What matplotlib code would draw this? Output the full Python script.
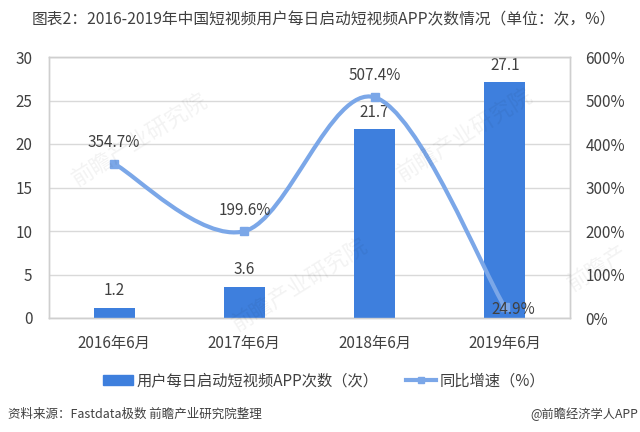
import matplotlib
matplotlib.use('Agg')
import matplotlib.pyplot as plt
from matplotlib.path import Path
from matplotlib.patches import PathPatch
from matplotlib.lines import Line2D
from matplotlib.patches import Patch

plt.rcParams['font.family'] = ['Noto Sans CJK SC', 'DejaVu Sans']

categories = ['2016年6月', '2017年6月', '2018年6月', '2019年6月']
counts = [1.2, 3.6, 21.7, 27.1]
growth = [354.7, 199.6, 507.4, 24.9]
left_ticks = [0, 5, 10, 15, 20, 25, 30]
right_ticks = [0, 100, 200, 300, 400, 500, 600]

W, H = 640, 432
fig = plt.figure(figsize=(W / 100, H / 100), dpi=100, facecolor='white')
ax = fig.add_axes([49 / W, 1 - 318 / H, (570 - 49) / W, (318 - 57) / H])
ax2 = ax.twinx()
ax.set_zorder(1)
ax2.set_zorder(2)
ax2.patch.set_visible(False)

TXT = '#404040'
BAR = '#3E7FDD'
LINE = '#7BA7E8'
GRID = '#D9D9D9'
xs = list(range(len(categories)))

ax.bar(xs, counts, width=0.315, color=BAR, zorder=3)
ax.set_xlim(-0.5, 3.5)
ax.set_ylim(0, 30)
ax.set_yticks(left_ticks)
ax.set_xticks(xs)
ax.set_xticklabels(categories)
ax.grid(axis='y', color=GRID, lw=1)
ax.set_axisbelow(True)
ax.tick_params(axis='both', length=0, labelsize=11, labelcolor=TXT)
ax.tick_params(axis='x', pad=12)
ax.tick_params(axis='y', pad=12)

ax2.set_ylim(0, 600)
ax2.set_yticks(right_ticks)
ax2.set_yticklabels([f'{v}%' for v in right_ticks])
ax2.tick_params(axis='y', length=0, labelsize=11, labelcolor=TXT, pad=11)

for a in (ax, ax2):
    for s in ('top', 'left', 'right', 'bottom'):
        a.spines[s].set_color('#CFCFCF')
        a.spines[s].set_linewidth(1)

# smoothed line through the data points (Catmull-Rom style, as spreadsheet charts draw it)
n = len(xs)
verts = [(xs[0], growth[0])]
codes = [Path.MOVETO]
for i in range(n - 1):
    p0 = (xs[max(i - 1, 0)], growth[max(i - 1, 0)])
    p1 = (xs[i], growth[i])
    p2 = (xs[i + 1], growth[i + 1])
    p3 = (xs[min(i + 2, n - 1)], growth[min(i + 2, n - 1)])
    c1 = (p1[0] + (p2[0] - p0[0]) / 6, p1[1] + (p2[1] - p0[1]) / 6)
    c2 = (p2[0] - (p3[0] - p1[0]) / 6, p2[1] - (p3[1] - p1[1]) / 6)
    verts += [c1, c2, p2]
    codes += [Path.CURVE4] * 3
ax2.add_patch(PathPatch(Path(verts, codes), fc='none', ec=LINE, lw=3, capstyle='round', zorder=4))
ax2.plot(xs, growth, ls='none', marker='s', ms=5.2, color=LINE, zorder=5)

for x, v in zip(xs, counts):
    ax.annotate(f'{v}', (x, v), xytext=(0, 6), textcoords='offset points', ha='center',
                va='bottom', fontsize=11, color=TXT, zorder=6)
label_offsets = [(0, 9), (0, 9), (0, 9.5), (6, -1.5)]
for x, v, off in zip(xs, growth, label_offsets):
    ax2.annotate(f'{v}%', (x, v), xytext=off, textcoords='offset points', ha='center',
                 va='bottom' if off[1] > 0 else 'center', fontsize=11, color=TXT, zorder=6)

fig.text(32 / W, 1 - 20 / H, '图表2：2016-2019年中国短视频用户每日启动短视频APP次数情况（单位：次，%）',
         fontsize=11.3, color=TXT, va='center', ha='left')

handles = [Patch(color=BAR), Line2D([0], [0], color=LINE, lw=3, marker='s', ms=5)]
labels = ['用户每日启动短视频APP次数（次）', '同比增速（%）']
fig.legend(handles, labels, loc='center', bbox_to_anchor=(324 / W, 1 - 381 / H), ncol=2, frameon=False,
           fontsize=11, labelcolor=TXT, handlelength=1.95, handletextpad=0.2, columnspacing=1.85,
           handleheight=0.6)

fig.text(8 / W, 1 - 414 / H, '资料来源：Fastdata极数 前瞻产业研究院整理', fontsize=9, color=TXT,
         style='italic', va='center', ha='left')
fig.text(638 / W, 1 - 414 / H, '@前瞻经济学人APP', fontsize=8.8, color=TXT, va='center', ha='right')

# faint watermarks
for px, py, mark in [(140, 140, '前瞻产业研究院'), (300, 285, '前瞻产业研究院'),
                     (465, 135, '前瞻产业研究院'), (598, 268, '前瞻产')]:
    fig.text(px / W, 1 - py / H, mark, fontsize=16, color='#000000', alpha=0.05,
             rotation=32, ha='center', va='center')

fig.savefig('out.png', dpi=100)
